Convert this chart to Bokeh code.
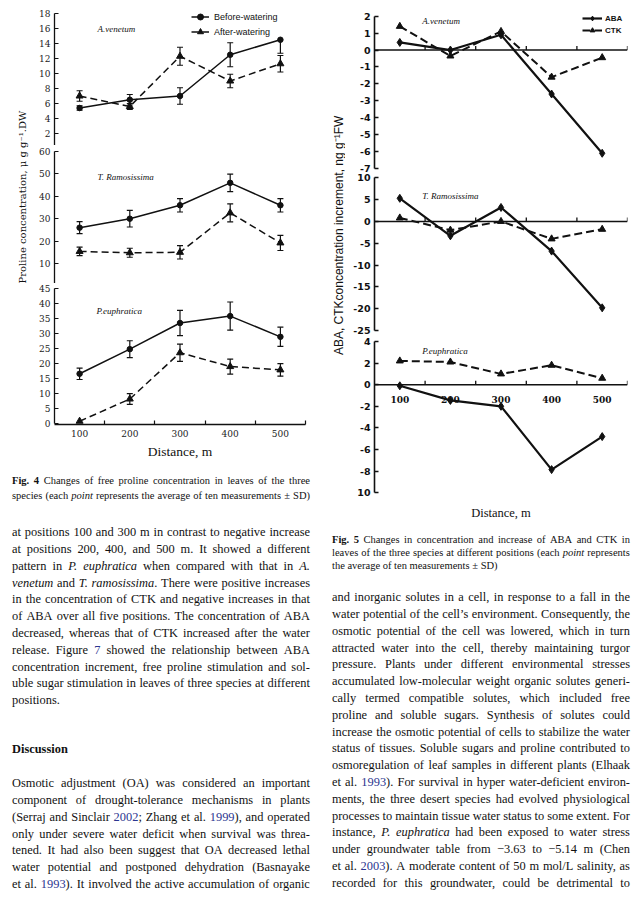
import re
from math import pi
from bokeh.plotting import figure
from bokeh.models import (Range1d, FixedTicker, Whisker, TeeHead, ColumnDataSource,
                          Legend, LegendItem, Label, Span, Div)
from bokeh.layouts import row, column
from bokeh.embed import file_html
from bokeh.resources import INLINE
from bokeh.core.properties import value

# ---------------- data ----------------
distance = [100, 200, 300, 400, 500]
minor_x = [150, 250, 350, 450, 550]
dist_labels = ["100", "200", "300", "400", "500"]

# Fig. 4 free proline concentration (mean, SD)
av_before = [5.4, 6.5, 7.0, 12.5, 14.5]
av_before_sd_up = [0.3, 0.7, 1.1, 1.6, 0.0]
av_before_sd_dn = [0.3, 0.7, 1.1, 1.6, 1.8]
av_after = [7.0, 5.6, 12.3, 9.0, 11.3]
av_after_sd = [0.7, 0.4, 1.2, 0.9, 1.1]
tr_before = [26.0, 30.0, 36.0, 46.0, 36.0]
tr_before_sd = [2.7, 3.7, 3.0, 3.9, 3.0]
tr_after = [15.4, 14.8, 15.0, 32.6, 19.2]
tr_after_sd = [1.9, 2.0, 3.0, 4.0, 3.4]
pe_before = [16.6, 24.8, 33.5, 35.8, 28.9]
pe_before_sd = [1.9, 2.8, 4.2, 4.7, 3.2]
pe_after = [0.8, 8.2, 23.6, 19.0, 17.9]
pe_after_sd = [0.0, 1.8, 2.9, 2.5, 2.1]

ticks4_av = [2, 4, 6, 8, 10, 12, 14, 16, 18]
ticks4_tr = [10, 20, 30, 40, 50, 60]
ticks4_pe = [0, 5, 10, 15, 20, 25, 30, 35, 40, 45]

# Fig. 5 ABA / CTK concentration increment
av_aba = [0.45, 0.0, 0.9, -2.6, -6.1]
av_ctk = [1.4, -0.35, 1.1, -1.6, -0.45]
tr_aba = [5.3, -3.3, 3.2, -6.8, -19.8]
tr_ctk = [0.8, -2.0, 0.0, -4.0, -1.8]
pe_aba = [-0.1, -1.45, -2.0, -7.85, -4.8]
pe_ctk = [2.2, 2.1, 1.0, 1.8, 0.6]

ticks5_av = [2, 1, 0, -1, -2, -3, -4, -5, -6, -7]
ticks5_tr = [10, 5, 0, -5, -10, -15, -20, -25]
ticks5_pe = [4, 2, 0, -2, -4, -6, -8, -10]
labels5_pe = {t: str(t) for t in ticks5_pe}
labels5_pe[-10] = "10"

INK = "#111111"


def frame_range(v_top, y_top, v_bot, y_bot, frame_top, frame_bot):
    s = (y_bot - y_top) / (v_top - v_bot)
    return Range1d(v_bot - (frame_bot - y_bot) / s, v_top + (y_top - frame_top) / s)


def make_fig(w, h, xr, yr, ml, mr, mb, xloc):
    p = figure(width=w, height=h, x_range=xr, y_range=yr, toolbar_location=None,
               output_backend="svg", min_border_left=ml, min_border_right=mr,
               min_border_top=0, min_border_bottom=mb, x_axis_location=xloc,
               background_fill_color="white", border_fill_color="white",
               outline_line_color=None)
    p.grid.visible = False
    return p


def add_err(p, vals, up, dn):
    hi = dict(x=[], v=[], e=[])
    lo = dict(x=[], v=[], e=[])
    for x, v, u, d in zip(distance, vals, up, dn):
        if u > 0:
            hi["x"].append(x); hi["v"].append(v); hi["e"].append(v + u)
        if d > 0:
            lo["x"].append(x); lo["v"].append(v); lo["e"].append(v - d)
    for src, which in ((hi, "up"), (lo, "dn")):
        head = TeeHead(size=6, line_color=INK, line_width=1.2)
        w = Whisker(source=ColumnDataSource(src), base="x",
                    upper="e" if which == "up" else "v",
                    lower="v" if which == "up" else "e",
                    line_color=INK, line_width=1.2,
                    upper_head=head if which == "up" else None,
                    lower_head=head if which == "dn" else None)
        p.add_layout(w)


x4 = Range1d(50, 550)
x5 = Range1d(50, 550)


def panel4(h, yr, ticks, before, b_up, b_dn, after, a_up, a_dn, species, sx, sy,
           bottom=False, legend=False):
    p = make_fig(290, h, x4, yr, 24, 15, 36 if bottom else 0, "below" if bottom else None)
    ax = p.yaxis[0]
    ax.ticker = FixedTicker(ticks=ticks)
    ax.bounds = (0, ticks[-1])
    ax.axis_line_color = INK
    ax.axis_line_width = 1.3
    ax.major_tick_in = 4
    ax.major_tick_out = 0
    ax.major_tick_line_color = INK
    ax.minor_tick_line_color = None
    ax.major_label_standoff = 4
    ax.major_label_text_font = "DejaVu Serif"
    ax.major_label_text_font_size = "9px"
    ax.major_label_text_color = "#222222"
    if bottom:
        xa = p.xaxis[0]
        xa.ticker = FixedTicker(ticks=distance, minor_ticks=minor_x)
        xa.axis_line_color = INK
        xa.axis_line_width = 1.3
        xa.major_tick_in = 0
        xa.major_tick_out = 0
        xa.minor_tick_in = 4
        xa.minor_tick_out = 0
        xa.minor_tick_line_color = INK
        xa.minor_tick_line_width = 1.2
        xa.major_label_standoff = 5
        xa.major_label_text_font = "DejaVu Serif"
        xa.major_label_text_font_size = "9px"
        xa.major_label_text_color = "#222222"
        xa.axis_label = "Distance, m"
        xa.axis_label_text_font = "Liberation Serif"
        xa.axis_label_text_font_size = "13.5px"
        xa.axis_label_text_font_style = "normal"
        xa.axis_label_text_color = INK
        xa.axis_label_standoff = 4
    l1 = p.line(distance, before, line_color=INK, line_width=1.5)
    s1 = p.scatter(distance, before, marker="circle", size=5.5, color=INK)
    l2 = p.line(distance, after, line_color=INK, line_width=1.5, line_dash="7 4")
    s2 = p.scatter(distance, after, marker="triangle", size=7, color=INK)
    add_err(p, before, b_up, b_dn)
    add_err(p, after, a_up, a_dn)
    p.add_layout(Label(x=sx, y=sy, text=species, text_font="Liberation Serif",
                       text_font_style="italic", text_font_size="9px",
                       text_baseline="middle", text_color=INK))
    if legend:
        lg = Legend(items=[LegendItem(label="Before-watering", renderers=[l1, s1]),
                           LegendItem(label="After-watering", renderers=[l2, s2])],
                    location=(137, 106), padding=0, margin=0, spacing=0,
                    glyph_width=18, glyph_height=15, label_height=15, label_standoff=5,
                    border_line_alpha=0, background_fill_alpha=0,
                    label_text_font="Liberation Sans", label_text_font_size="9px",
                    label_text_color=INK)
        p.add_layout(lg)
    return p


p4a = panel4(145, frame_range(18, 13, 2, 133, 0, 145), ticks4_av,
             av_before, av_before_sd_up, av_before_sd_dn,
             av_after, av_after_sd, av_after_sd, "A.venetum", 135.7, 15.9, legend=True)
p4b = panel4(138, frame_range(60, 151, 10, 263, 145, 283), ticks4_tr,
             tr_before, tr_before_sd, tr_before_sd,
             tr_after, tr_after_sd, tr_after_sd, "T. Ramosissima", 135.7, 48.8)
p4c = panel4(178, frame_range(45, 288, 5, 409, 283, 425), ticks4_pe,
             pe_before, pe_before_sd, pe_before_sd,
             pe_after, pe_after_sd, pe_after_sd, "P.euphratica", 133.7, 37.4, bottom=True)


def ylabel_fig(w, h, text, fx, fy, font, size):
    p = figure(width=w, height=h, x_range=Range1d(0, 1), y_range=Range1d(0, 1),
               toolbar_location=None, output_backend="svg", min_border=0,
               x_axis_location=None, y_axis_location=None, outline_line_color=None,
               background_fill_color="white", border_fill_color="white")
    p.grid.visible = False
    p.text(x=[fx], y=[fy], text=[text], angle=pi / 2, text_align="center",
           text_baseline="middle", text_font=value(font), text_font_size=size,
           text_color=INK)
    return p


ylab4 = ylabel_fig(30, 461, "Proline concentration,  \u03bc g g\u207b\u00b9.DW", 0.733, 0.577,
                   "DejaVu Serif", "10px")


def panel5(h, yr, ticks, overrides, aba, ctk, species, sy, bottom=False, legend=False):
    p = make_fig(291, h, x5, yr, 29, 9, 22 if bottom else 0, "below" if bottom else None)
    ax = p.yaxis[0]
    ax.ticker = FixedTicker(ticks=ticks)
    ax.bounds = (min(ticks), max(ticks))
    ax.major_label_overrides = overrides
    ax.axis_line_color = INK
    ax.axis_line_width = 1.6
    ax.major_tick_in = 4
    ax.major_tick_out = 0
    ax.major_tick_line_color = INK
    ax.major_tick_line_width = 1.4
    ax.minor_tick_line_color = None
    ax.major_label_standoff = 4
    ax.major_label_text_font = "DejaVu Sans"
    ax.major_label_text_font_style = "bold"
    ax.major_label_text_font_size = "9.5px"
    ax.major_label_text_color = INK
    p.add_layout(Span(location=0, dimension="width", line_color=INK, line_width=1.5))
    p.ray(x=minor_x, y=[0] * len(minor_x), length=4, length_units="screen",
          angle=pi / 2, line_color=INK, line_width=1.3)
    l1 = p.line(distance, aba, line_color=INK, line_width=2.2)
    s1 = p.scatter(distance, aba, marker="diamond", size=8, color=INK)
    l2 = p.line(distance, ctk, line_color=INK, line_width=2.0, line_dash="8 4")
    s2 = p.scatter(distance, ctk, marker="triangle", size=7, color=INK)
    p.add_layout(Label(x=144.3, y=sy, text=species, text_font="Liberation Serif",
                       text_font_style="italic", text_font_size="9px",
                       text_baseline="middle", text_color=INK))
    if bottom:
        p.text(x=distance, y=[0] * len(distance), text=dist_labels, y_offset=15,
               text_align="center", text_baseline="middle",
               text_font=value("DejaVu Serif"), text_font_size="9px",
               text_font_style="bold", text_color=INK)
        xa = p.xaxis[0]
        xa.ticker = FixedTicker(ticks=[])
        xa.axis_line_color = None
        xa.major_tick_line_color = None
        xa.minor_tick_line_color = None
        xa.major_label_standoff = 0
        xa.axis_label = "Distance, m"
        xa.axis_label_text_font = "Liberation Serif"
        xa.axis_label_text_font_size = "12.5px"
        xa.axis_label_text_font_style = "normal"
        xa.axis_label_text_color = INK
        xa.axis_label_standoff = 6
    if legend:
        lg = Legend(items=[LegendItem(label="ABA", renderers=[l1, s1]),
                           LegendItem(label="CTK", renderers=[l2, s2])],
                    location=(208, 137), padding=0, margin=0, spacing=0,
                    glyph_width=20, glyph_height=12, label_height=12, label_standoff=3,
                    border_line_alpha=0, background_fill_alpha=0,
                    label_text_font="Liberation Sans", label_text_font_style="bold",
                    label_text_font_size="8px", label_text_color=INK)
        p.add_layout(lg)
    return p


p5a = panel5(173, frame_range(2, 15.7, -7, 168, 0, 173), ticks5_av,
             {t: str(t) for t in ticks5_av}, av_aba, av_ctk, "A.venetum", 1.70, legend=True)
p5b = panel5(162, frame_range(10, 177.3, -25, 330, 173, 335), ticks5_tr,
             {t: str(t) for t in ticks5_tr}, tr_aba, tr_ctk, "T. Ramosissima", 5.94)
p5c = panel5(187, frame_range(4, 341, -10, 493.3, 335, 500), ticks5_pe,
             labels5_pe, pe_aba, pe_ctk, "P.euphratica", 3.11, bottom=True)

ylab5 = ylabel_fig(25, 522, "ABA, CTKconcentration increment, ng g\u207b\u00b9FW", 0.72, 0.55,
                   "Liberation Sans", "12px")

# ---------------- text ----------------
BLUE = "#2b3590"


def fmt(w):
    w = re.sub(r"\*\*(.+?)\*\*", r"<b>\1</b>", w)
    w = re.sub(r"\*(.+?)\*", r"<i>\1</i>", w)
    w = re.sub(r"\{(.+?)\}", r'<span style="color:%s">\1</span>' % BLUE, w)
    return w


def line_html(text, top, lh, left, justify=True, extra=""):
    words = text.split(" ")
    inner = " ".join("<span>%s</span>" % fmt(w) for w in words)
    style = ("position:absolute;left:%dpx;top:%.1fpx;width:298px;height:%.1fpx;"
             "line-height:%.1fpx;white-space:nowrap;%s" % (left, top, lh, lh, extra))
    if justify:
        style += "display:flex;justify-content:space-between;"
    return '<div style="%s">%s</div>' % (style, inner)


def text_div(width, height, div_top, left, size, lh, lines):
    # lines: (text, centre_y_on_page, justify, extra_style)
    off = lh / 2 + 0.06 * size
    parts = []
    for t, c, j, ex in lines:
        parts.append(line_html(t, c - off - div_top, lh, left, j, ex))
    html = ('<div style="position:relative;width:%dpx;height:%dpx;'
            "font-family:'Liberation Serif',serif;font-size:%.1fpx;color:#111;\">%s</div>"
            % (width, height, size, "".join(parts)))
    return Div(text=html, width=width, height=height, margin=0)


cap4_lines = [
    "**Fig.** **4** Changes of free proline concentration in leaves of the three",
    "species (each *point* represents the average of ten measurements \u00b1 SD)",
]
cap4 = text_div(320, 47, 461, 12, 10.5, 15,
                [(cap4_lines[0], 481, True, ""), (cap4_lines[1], 496.5, True, "")])

body4_a = [
    "at positions 100 and 300 m in contrast to negative increase",
    "at positions 200, 400, and 500 m. It showed a different",
    "pattern in *P.* *euphratica* when compared with that in *A.*",
    "*venetum* and *T.* *ramosissima*. There were positive increases",
    "in the concentration of CTK and negative increases in that",
    "of ABA over all five positions. The concentration of ABA",
    "decreased, whereas that of CTK increased after the water",
    "release. Figure {7} showed the relationship between ABA",
    "concentration increment, free proline stimulation and sol-",
    "uble sugar stimulation in leaves of three species at different",
    "positions.",
]
body4_b = [
    "Osmotic adjustment (OA) was considered an important",
    "component of drought-tolerance mechanisms in plants",
    "(Serraj and Sinclair {2002}; Zhang et al. {1999}), and operated",
    "only under severe water deficit when survival was threa-",
    "tened. It had also been suggest that OA decreased lethal",
    "water potential and postponed dehydration (Basnayake",
    "et al. {1993}). It involved the active accumulation of organic",
]
lines4 = []
for k, t in enumerate(body4_a):
    lines4.append((t, 533.3 + 16.8 * k, k < len(body4_a) - 1, ""))
lines4.append(("**Discussion**", 750, False, ""))
for k, t in enumerate(body4_b):
    lines4.append((t, 784.3 + 16.78 * k, True, ""))
txt4 = text_div(320, 388, 508, 12, 12.4, 16.8, lines4)

cap5_lines = [
    "**Fig.** **5** Changes in concentration and increase of ABA and CTK in",
    "leaves of the three species at different positions (each *point* represents",
    "the average of ten measurements \u00b1 SD)",
]
cap5 = text_div(316, 56, 522, 12, 10.5, 13.3,
                [(cap5_lines[0], 540, True, ""), (cap5_lines[1], 553.3, True, ""),
                 (cap5_lines[2], 566.7, False, "")])

body5 = [
    "and inorganic solutes in a cell, in response to a fall in the",
    "water potential of the cell\u2019s environment. Consequently, the",
    "osmotic potential of the cell was lowered, which in turn",
    "attracted water into the cell, thereby maintaining turgor",
    "pressure. Plants under different environmental stresses",
    "accumulated low-molecular weight organic solutes generi-",
    "cally termed compatible solutes, which included free",
    "proline and soluble sugars. Synthesis of solutes could",
    "increase the osmotic potential of cells to stabilize the water",
    "status of tissues. Soluble sugars and proline contributed to",
    "osmoregulation of leaf samples in different plants (Elhaak",
    "et al. {1993}). For survival in hyper water-deficient environ-",
    "ments, the three desert species had evolved physiological",
    "processes to maintain tissue water status to some extent. For",
    "instance, *P.* *euphratica* had been exposed to water stress",
    "under groundwater table from \u22123.63 to \u22125.14 m (Chen",
    "et al. {2003}). A moderate content of 50 m mol/L salinity, as",
    "recorded for this groundwater, could be detrimental to",
]
lines5 = [(t, 598.3 + 16.8 * k, True, "") for k, t in enumerate(body5)]
txt5 = text_div(316, 318, 578, 12, 12.4, 16.8, lines5)

left_col = column(row(ylab4, column(p4a, p4b, p4c, spacing=0), spacing=0), cap4, txt4, spacing=0)
right_col = column(row(ylab5, column(p5a, p5b, p5c, spacing=0), spacing=0), cap5, txt5, spacing=0)
root = row(left_col, right_col, spacing=0)

open("out.html", "w").write(file_html(root, INLINE))
